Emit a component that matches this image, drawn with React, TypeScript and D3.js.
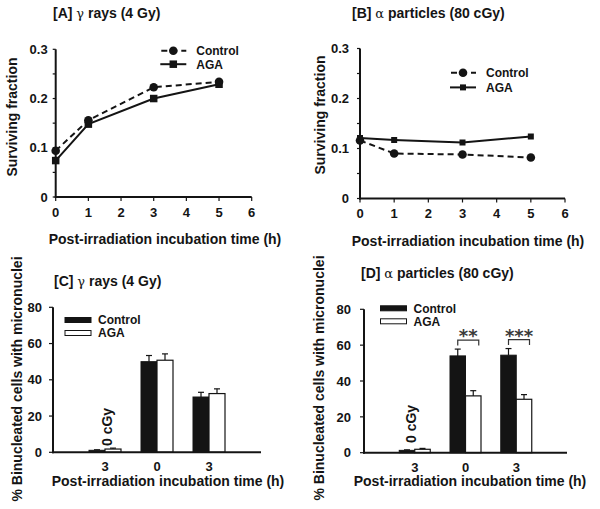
import React from "react";
import * as d3 from "d3";

// ---------- data ----------
const lineTimes = [0, 1, 3, 5];
const aControl = [0.094, 0.156, 0.223, 0.234];
const aAGA = [0.074, 0.148, 0.2, 0.229];
const bControl = [0.116, 0.09, 0.088, 0.082];
const bAGA = [0.121, 0.117, 0.112, 0.124];
const lineXTicks = [0, 1, 2, 3, 4, 5, 6];
const lineYTicks = [0, 0.1, 0.2, 0.3];
const lineYMinorTicks = [0.05, 0.15, 0.25];

const barCategories = ["3", "0", "3"];
const cControl = [1.1, 50.0, 30.5];
const cControlErr = [0.3, 3.4, 2.6];
const cAGA = [1.8, 50.8, 32.4];
const cAGAErr = [0.5, 3.5, 2.6];
const dControl = [1.3, 54.0, 54.4];
const dControlErr = [0.3, 3.8, 3.7];
const dAGA = [1.9, 31.7, 29.8];
const dAGAErr = [0.5, 2.9, 2.6];
const dSignificance = ["", "**", "***"];
const barYTicks = [0, 20, 40, 60, 80];

const seriesNames = ["Control", "AGA"];
const xTitle = "Post-irradiation incubation time (h)";

const FONT = "'Liberation Sans', Arial, Helvetica, sans-serif";
const INK = "#141414";

type LineProps = {
  title: [string, string, string];
  titleX: number;
  titleY: number;
  x0: number; x1: number; y0: number; y1: number;
  control: number[];
  aga: number[];
  legX: number; legY: number; legGap: number;
  ylabX: number; ylabY: number;
  xlabX: number; xlabY: number;
  xTickY: number;
  yLabGap: number;
  sq: number;
};

function LinePanel(p: LineProps) {
  const x = d3.scaleLinear().domain([0, 6]).range([p.x0, p.x1]);
  const y = d3.scaleLinear().domain([0, 0.3]).range([p.y0, p.y1]);
  const line = d3
    .line<number>()
    .x((_, i) => x(lineTimes[i]))
    .y((d) => y(d));
  return (
    <g fontFamily={FONT} fill={INK}>
      <text x={p.titleX} y={p.titleY} fontSize={14} fontWeight="bold">
        {p.title[0]}
        <tspan fontWeight="normal" fontFamily="'DejaVu Serif', serif" fontSize={13}>{p.title[1]}</tspan>
        {p.title[2]}
      </text>
      {/* axes */}
      <line x1={x(0)} x2={x(0)} y1={y(0) + 1} y2={y(0.3)} stroke={INK} strokeWidth={2} />
      <line x1={x(0) - 1} x2={x(6)} y1={y(0)} y2={y(0)} stroke={INK} strokeWidth={2} />
      {lineXTicks.map((t) => (
        <g key={"xt" + t}>
          <line x1={x(t)} x2={x(t)} y1={y(0)} y2={y(0) + 4} stroke={INK} strokeWidth={1.2} />
          <text x={x(t)} y={p.xTickY} fontSize={13} fontWeight="bold" textAnchor="middle">
            {t}
          </text>
        </g>
      ))}
      {lineYTicks.concat(lineYMinorTicks).map((t) => (
        <line key={"yt" + t} x1={x(0) - 3} x2={x(0)} y1={y(t)} y2={y(t)} stroke={INK} strokeWidth={1.2} />
      ))}
      {lineYTicks.map((t) => (
        <text key={"yl" + t} x={x(0) - p.yLabGap} y={y(t)} dy="0.36em" fontSize={13} fontWeight="bold" textAnchor="end">
          {t === 0 ? "0" : t.toFixed(1)}
        </text>
      ))}
      {/* series */}
      <path d={line(p.aga) || ""} fill="none" stroke={INK} strokeWidth={2} />
      <path d={line(p.control) || ""} fill="none" stroke={INK} strokeWidth={2} strokeDasharray="6,4" />
      {p.aga.map((v, i) => (
        <rect key={"s" + i} x={x(lineTimes[i]) - p.sq / 2} y={y(v) - p.sq / 2} width={p.sq} height={p.sq} fill={INK} />
      ))}
      {p.control.map((v, i) => (
        <circle key={"c" + i} cx={x(lineTimes[i])} cy={y(v)} r={4.3} fill={INK} />
      ))}
      {/* legend */}
      <line x1={p.legX - 13} x2={p.legX + 13} y1={p.legY} y2={p.legY} stroke={INK} strokeWidth={2} strokeDasharray="6,4" strokeDashoffset={-1} />
      <circle cx={p.legX} cy={p.legY} r={4.3} fill={INK} />
      <text x={p.legX + 23} y={p.legY} dy="0.36em" fontSize={12} fontWeight="bold">{seriesNames[0]}</text>
      <line x1={p.legX - 13} x2={p.legX + 13} y1={p.legY + p.legGap} y2={p.legY + p.legGap} stroke={INK} strokeWidth={2} />
      <rect x={p.legX - p.sq / 2} y={p.legY + p.legGap - p.sq / 2} width={p.sq} height={p.sq} fill={INK} />
      <text x={p.legX + 23} y={p.legY + p.legGap} dy="0.36em" fontSize={12} fontWeight="bold">{seriesNames[1]}</text>
      {/* axis titles */}
      <text x={p.xlabX} y={p.xlabY} fontSize={14} fontWeight="bold" textAnchor="middle">{xTitle}</text>
      <text
        x={p.ylabX}
        y={p.ylabY}
        fontSize={14}
        fontWeight="bold"
        textAnchor="middle"
        transform={`rotate(-90, ${p.ylabX}, ${p.ylabY})`}
      >
        Surviving fraction
      </text>
    </g>
  );
}

type BarProps = {
  title: [string, string, string];
  titleX: number;
  titleY: number;
  x0: number; x1: number; y0: number; y1: number;
  control: number[]; controlErr: number[];
  aga: number[]; agaErr: number[];
  sig?: string[];
  bw: number;
  legX: number; legY: number;
  ylabX: number; ylabY: number;
  xlabX: number; xlabY: number;
  xTickY: number;
  yLabGap: number;
  zeroX: number; zeroY: number;
};

function BarPanel(p: BarProps) {
  const x = d3.scaleLinear().domain([0, 4]).range([p.x0, p.x1]);
  const y = d3.scaleLinear().domain([0, 80]).range([p.y0, p.y1]);
  const capW = 3;
  return (
    <g fontFamily={FONT} fill={INK}>
      <text x={p.titleX} y={p.titleY} fontSize={14} fontWeight="bold">
        {p.title[0]}
        <tspan fontWeight="normal" fontFamily="'DejaVu Serif', serif" fontSize={13}>{p.title[1]}</tspan>
        {p.title[2]}
      </text>
      {/* bars */}
      {barCategories.map((c, i) => {
        const cx = x(i + 1);
        const cTop = y(p.control[i]);
        const aTop = y(p.aga[i]);
        const cE = y(p.control[i] + p.controlErr[i]);
        const aE = y(p.aga[i] + p.agaErr[i]);
        const cMid = cx - p.bw / 2;
        const aMid = cx + p.bw / 2;
        return (
          <g key={"b" + i}>
            <line x1={cMid} x2={cMid} y1={cTop} y2={cE} stroke={INK} strokeWidth={1.2} />
            <line x1={cMid - capW} x2={cMid + capW} y1={cE} y2={cE} stroke={INK} strokeWidth={1.2} />
            <line x1={aMid} x2={aMid} y1={aTop} y2={aE} stroke={INK} strokeWidth={1.2} />
            <line x1={aMid - capW} x2={aMid + capW} y1={aE} y2={aE} stroke={INK} strokeWidth={1.2} />
            <rect x={cx - p.bw} y={cTop} width={p.bw} height={y(0) - cTop} fill={INK} stroke={INK} strokeWidth={1} />
            <rect x={cx} y={aTop} width={p.bw} height={y(0) - aTop} fill="#fff" stroke={INK} strokeWidth={1.2} />
            <text x={cx} y={p.xTickY} fontSize={13} fontWeight="bold" textAnchor="middle">{c}</text>
          </g>
        );
      })}
      {/* significance */}
      {p.sig &&
        p.sig.map((s, i) => {
          if (!s) return null;
          const cx = x(i + 1);
          const top = Math.min(y(p.control[i] + p.controlErr[i]), y(p.aga[i] + p.agaErr[i])) - 9;
          const bx0 = cx - p.bw / 2;
          const bx1 = cx + p.bw / 2 + 5.5;
          return (
            <g key={"sig" + i}>
              <path d={`M${bx0},${top + 5.5}V${top}H${bx1}V${top + 5.5}`} fill="none" stroke="#333" strokeWidth={1.2} />
              <text
                x={(bx0 + bx1) / 2}
                y={top + 2}
                fontSize={18}
                fontWeight="bold"
                fontFamily="'DejaVu Sans', sans-serif"
                textAnchor="middle"
                fill="#3a3a3a"
              >
                {s}
              </text>
            </g>
          );
        })}
      {/* axes */}
      <line x1={x(0)} x2={x(0)} y1={y(0) + 1} y2={y(80)} stroke={INK} strokeWidth={2} />
      <line x1={x(0) - 1} x2={x(4)} y1={y(0)} y2={y(0)} stroke={INK} strokeWidth={2} />
      {barYTicks.map((t) => (
        <g key={"yt" + t}>
          <line x1={x(0) - 4} x2={x(0)} y1={y(t)} y2={y(t)} stroke={INK} strokeWidth={1.2} />
          <text x={x(0) - p.yLabGap} y={y(t)} dy="0.36em" fontSize={13} fontWeight="bold" textAnchor="end">{t}</text>
        </g>
      ))}
      {/* 0 cGy label */}
      <text
        x={p.zeroX}
        y={p.zeroY}
        fontSize={14}
        fontWeight="bold"
        transform={`rotate(-90, ${p.zeroX}, ${p.zeroY})`}
      >
        0 cGy
      </text>
      {/* legend */}
      <rect x={p.legX} y={p.legY - 2.5} width={26} height={5} fill={INK} stroke={INK} strokeWidth={1} />
      <text x={p.legX + 33} y={p.legY} dy="0.36em" fontSize={12} fontWeight="bold">{seriesNames[0]}</text>
      <rect x={p.legX} y={p.legY + 13 - 2.5} width={26} height={5} fill="#fff" stroke={INK} strokeWidth={1} />
      <text x={p.legX + 33} y={p.legY + 13} dy="0.36em" fontSize={12} fontWeight="bold">{seriesNames[1]}</text>
      {/* axis titles */}
      <text x={p.xlabX} y={p.xlabY} fontSize={14} fontWeight="bold" textAnchor="middle">{xTitle}</text>
      <text
        x={p.ylabX}
        y={p.ylabY}
        fontSize={14}
        fontWeight="bold"
        textAnchor="middle"
        transform={`rotate(-90, ${p.ylabX}, ${p.ylabY})`}
      >
        % Binucleated cells with micronuclei
      </text>
    </g>
  );
}

export default function App() {
  return (
    <svg
      width={600}
      height={509}
      viewBox="0 0 600 509"
      style={{ position: "absolute", left: 0, top: 0, background: "#fff" }}
    >
      <rect width={600} height={509} fill="#fff" />
      <LinePanel
        title={["[A] ", "γ", " rays (4 Gy)"]}
        titleX={53}
        titleY={18}
        x0={55.7} x1={251.7} y0={197} y1={49.3}
        control={aControl}
        aga={aAGA}
        legX={173.3} legY={50.7} legGap={13.5}
        ylabX={16.5} ylabY={117}
        xlabX={165} xlabY={244}
        xTickY={217}
        yLabGap={8}
        sq={7.5}
      />
      <LinePanel
        title={["[B] ", "α", " particles (80 cGy)"]}
        titleX={352}
        titleY={18}
        x0={360} x1={565} y0={198.5} y1={48.5}
        control={bControl}
        aga={bAGA}
        legX={463} legY={72.7} legGap={14.7}
        ylabX={325} ylabY={115}
        xlabX={468} xlabY={246}
        xTickY={218}
        yLabGap={11}
        sq={6}
      />
      <BarPanel
        title={["[C] ", "γ", " rays (4 Gy)"]}
        titleX={54}
        titleY={286}
        x0={53} x1={261} y0={452.3} y1={307.3}
        control={cControl} controlErr={cControlErr}
        aga={cAGA} agaErr={cAGAErr}
        bw={16}
        legX={65} legY={320}
        ylabX={21.5} ylabY={379}
        xlabX={168} xlabY={485.5}
        xTickY={471}
        yLabGap={11}
        zeroX={112} zeroY={446}
      />
      <BarPanel
        title={["[D] ", "α", " particles (80 cGy)"]}
        titleX={361}
        titleY={278}
        x0={364} x1={567} y0={452.7} y1={309.3}
        control={dControl} controlErr={dControlErr}
        aga={dAGA} agaErr={dAGAErr}
        sig={dSignificance}
        bw={15.5}
        legX={380.5} legY={308.3}
        ylabX={324} ylabY={378}
        xlabX={470} xlabY={486}
        xTickY={471.5}
        yLabGap={13}
        zeroX={416} zeroY={443}
      />
    </svg>
  );
}
